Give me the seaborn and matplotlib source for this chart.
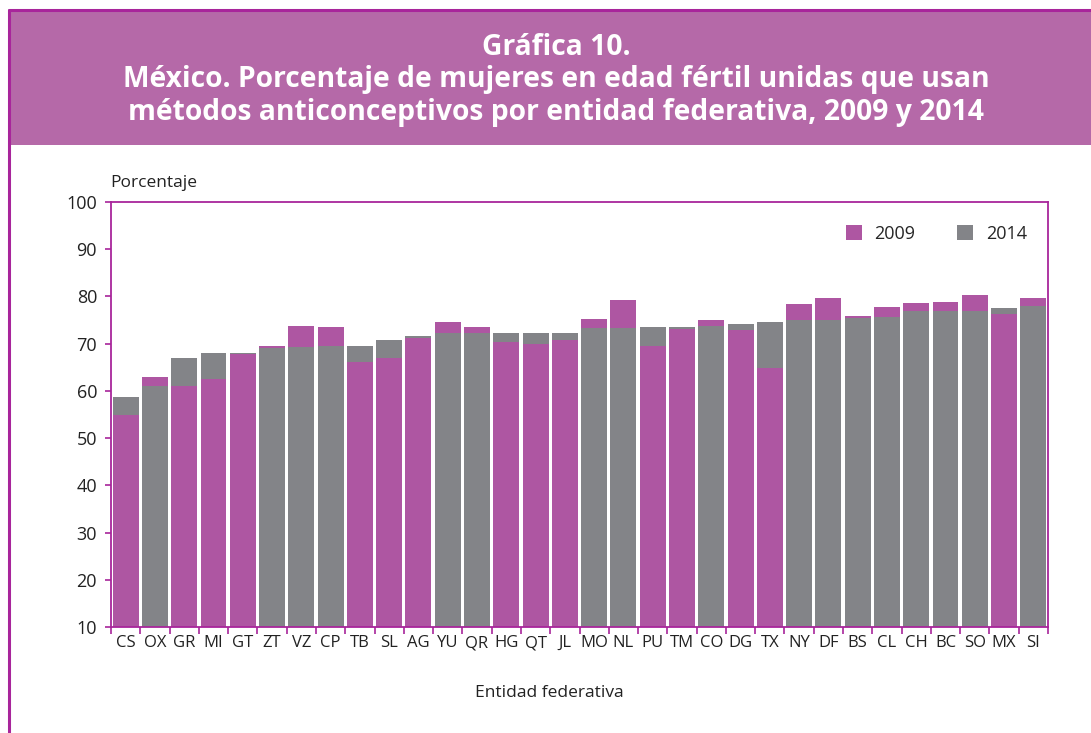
import numpy as np
import pandas as pd
import matplotlib
matplotlib.use("Agg")
import matplotlib.pyplot as plt
import matplotlib.patches as patches
from matplotlib.lines import Line2D
import seaborn as sns

# ==========================================
# 1. Datos
# ==========================================
entidades = ["CS", "OX", "GR", "MI", "GT", "ZT", "VZ", "CP", "TB", "SL", "AG",
             "YU", "QR", "HG", "QT", "JL", "MO", "NL", "PU", "TM", "CO", "DG",
             "TX", "NY", "DF", "BS", "CL", "CH", "BC", "SO", "MX", "SI"]

valores_2009 = [54.8, 63.0, 61.1, 62.5, 67.9, 69.4, 73.8, 73.6, 66.2, 67.0, 71.3,
                74.6, 73.6, 70.4, 70.0, 70.8, 75.3, 79.3, 69.4, 73.2, 75.1, 72.8,
                64.9, 78.5, 79.7, 75.9, 77.8, 78.6, 78.9, 80.4, 76.3, 79.7]

valores_2014 = [58.6, 61.1, 67.0, 68.0, 68.1, 69.0, 69.2, 69.4, 69.6, 70.8, 71.7,
                72.3, 72.3, 72.3, 72.3, 72.3, 73.4, 73.4, 73.6, 73.6, 73.8, 74.2,
                74.6, 75.1, 75.1, 75.5, 75.7, 77.0, 77.0, 77.0, 77.6, 78.0]

anios = ["2009", "2014"]

# ==========================================
# 2. Estilo
# ==========================================
sns.set_style("white")
plt.rcParams['font.family'] = ['Open Sans', 'DejaVu Sans']

morado = "#ae56a2"
gris = "#838488"
borde = "#a8259b"
banda = "#b569a8"
paleta = {"2009": morado, "2014": gris}

# tabla larga: la barra mayor va atrás, la menor adelante
filas = []
for e, v09, v14 in zip(entidades, valores_2009, valores_2014):
    for anio, v, otro in (("2009", v09, v14), ("2014", v14, v09)):
        capa = "atras" if v >= otro else "frente"
        filas.append({"entidad": e, "anio": anio, "valor": v, "capa": capa})
df = pd.DataFrame(filas)

# ==========================================
# 3. Figura
# ==========================================
fig = plt.figure(figsize=(10.91, 7.33), dpi=100)
W, H = 1091, 733

# banda del título
fig.patches.append(patches.Rectangle((8 / W, 1 - 145 / H), 1 - 8 / W, 135 / H,
                                     transform=fig.transFigure, facecolor=banda,
                                     edgecolor="none", zorder=0))
fig.lines.append(Line2D([9 / W, 1], [1 - 10 / H, 1 - 10 / H], transform=fig.transFigure,
                        color=borde, lw=2.2))
fig.lines.append(Line2D([9 / W, 9 / W], [0, 1 - 10 / H], transform=fig.transFigure,
                        color=borde, lw=2.2))

fig.text(556 / W, 1 - 80 / H,
         "Gráfica 10.\nMéxico. Porcentaje de mujeres en edad fértil unidas que usan\n"
         "métodos anticonceptivos por entidad federativa, 2009 y 2014",
         ha="center", va="center", color="white", fontsize=20.3, fontweight="bold",
         linespacing=1.15)

ax = fig.add_axes([111 / W, 1 - 627 / H, (1048 - 111) / W, (627 - 202) / H])

for capa in ("atras", "frente"):
    sns.barplot(data=df[df["capa"] == capa], x="entidad", y="valor", hue="anio",
                hue_order=anios, order=entidades, palette=paleta, dodge=False,
                width=0.885, linewidth=0, saturation=1, legend=False, ax=ax)

ax.set_ylim(10, 100)
ax.set_xlim(-0.5, len(entidades) - 0.5)
ax.set_yticks(np.arange(10, 101, 10))
ax.set_xlabel("")
ax.set_ylabel("")

for s in ax.spines.values():
    s.set_color(borde)
    s.set_linewidth(1.3)

ax.tick_params(axis="y", which="major", length=4, width=1.2, color=borde,
               direction="out", labelsize=13, pad=6, left=True)
ax.tick_params(axis="x", which="major", length=0, labelsize=12, pad=6)
ax.set_xticks(np.arange(-0.5, len(entidades), 1), minor=True)
ax.tick_params(axis="x", which="minor", length=5, width=1.2, color=borde,
               direction="out", bottom=True)
for lab in ax.get_xticklabels() + ax.get_yticklabels():
    lab.set_color("#222222")

fig.text(110 / W, 1 - 183 / H, "Porcentaje", ha="left", va="center",
         fontsize=12.5, color="#222222")
fig.text(549.5 / W, 1 - 693 / H, "Entidad federativa", ha="center", va="center",
         fontsize=12.5, color="#222222")

handles = [patches.Patch(facecolor=paleta[a], edgecolor="none", label=a) for a in anios]
ax.legend(handles=handles, loc="upper right", bbox_to_anchor=(0.995, 0.985), ncol=2,
          frameon=False, fontsize=13, handlelength=0.9, handleheight=0.9,
          columnspacing=2.3, handletextpad=0.7)

fig.savefig("out.png", dpi=100)
